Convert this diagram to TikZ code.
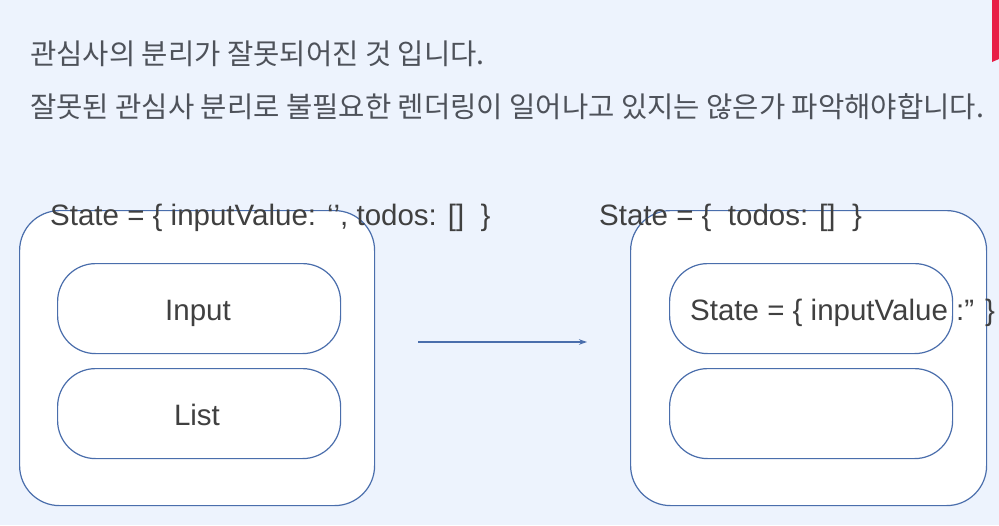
\documentclass[tikz,border=0pt]{standalone}
\usepackage{fontspec}
\setmainfont{Liberation Sans}
\newfontfamily\krfont{Noto Sans CJK KR}
\usetikzlibrary{arrows.meta}
\definecolor{bg}{RGB}{237,243,253}
\definecolor{edge}{RGB}{74,110,172}
\definecolor{txt}{RGB}{64,64,64}
\definecolor{krtxt}{RGB}{78,82,90}
\definecolor{accent}{RGB}{232,30,70}
\begin{document}
\begin{tikzpicture}[x=1pt,y=-1pt,
  outerbox/.style={draw=edge, line width=1.2pt, fill=white, rounded corners=40pt,
    minimum width=355pt, minimum height=295pt, anchor=north west, inner sep=0pt},
  innerbox/.style={draw=edge, line width=1.2pt, fill=white, rounded corners=38pt,
    minimum width=283pt, minimum height=90pt, anchor=north west, inner sep=0pt},
  lbl/.style={text=txt, inner sep=0pt, font=\fontsize{29.5}{36}\selectfont},
  krlbl/.style={text=krtxt, inner sep=0pt, anchor=west, font=\krfont\fontsize{28.6}{34}\selectfont},
  conn/.style={draw=edge, line width=1.2pt, -{Stealth[length=8pt,width=5.5pt]}}
]
\useasboundingbox (0,0) rectangle (999,525);
\fill[bg] (0,0) rectangle (999,525);
\fill[accent] (992,0) -- (999,0) -- (999,59) -- (992,62) -- cycle;

\node[krlbl] (line1) at (30,54) {관심사의 분리가 잘못되어진 것 입니다.};
\node[krlbl] (line2) at (30,107) {잘못된 관심사 분리로 불필요한 렌더링이 일어나고 있지는 않은가 파악해야합니다.};

% left component
\node[outerbox] (outL) at (19,210) {};
\node[innerbox] (inputL) at (57,263) {};
\node[innerbox] (listL) at (57,368) {};
\node[lbl, anchor=base west] (hdrL) at (50,225) {State = \{ inputValue: ‘’, todos: []\ \ \}};
\node[lbl, anchor=base] (inputTxt) at (198,320) {Input};
\node[lbl, anchor=base] (listTxt) at (197,425) {List};

% right component
\node[outerbox, minimum width=356pt] (outR) at (630,210) {};
\node[innerbox] (inputR) at (669,263) {};
\node[innerbox] (listR) at (669,368) {};
\node[lbl, anchor=base west] (hdrR) at (599,225) {State = \{\ \ todos: []\ \ \}};
\node[lbl, anchor=base west] (stateR) at (690,320) {State = \{ inputValue :” \}};

% arrow
\coordinate (a1) at (418,342);
\coordinate (a2) at (587,342);
\draw[conn] (a1) -- (a2);
\end{tikzpicture}
\end{document}
